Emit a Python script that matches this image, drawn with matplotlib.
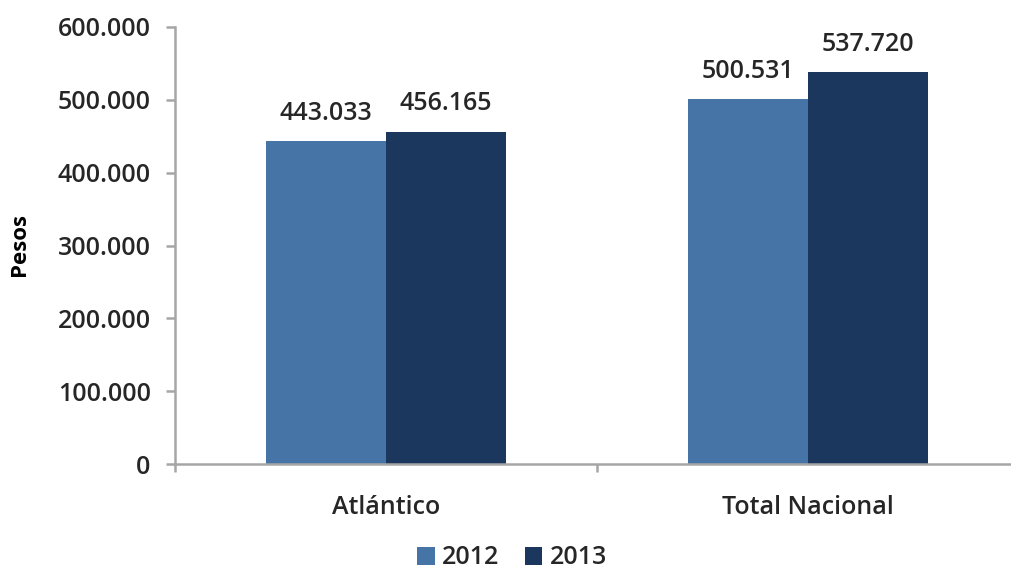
import matplotlib
matplotlib.use("Agg")
import matplotlib.pyplot as plt
from matplotlib.ticker import FuncFormatter
import numpy as np

categories = ["Atlántico", "Total Nacional"]
years = ["2012", "2013"]
values_2012 = [443033, 500531]
values_2013 = [456165, 537720]
yticks = [0, 100000, 200000, 300000, 400000, 500000, 600000]

colors = ["#4674A7", "#1B375E"]
text_color = "#262626"
plt.rcParams["font.family"] = ["Open Sans", "DejaVu Sans"]
plt.rcParams["font.weight"] = "semibold"

W, H = 1012, 569
fig = plt.figure(figsize=(W / 100, H / 100), dpi=100)
ax = fig.add_axes([175 / W, 1 - 464 / H, 844 / W, (464 - 27) / H])

def thousands(v):
    return f"{int(round(v)):,}".replace(",", ".")

x = np.arange(len(categories))
bw = 0.285
for i, (vals, yr) in enumerate(zip([values_2012, values_2013], years)):
    pos = x + (i - 0.5) * bw
    bars = ax.bar(pos, vals, width=bw, color=colors[i], label=yr, zorder=2)
    for b, v in zip(bars, vals):
        ax.annotate(thousands(v), (b.get_x() + b.get_width() / 2, v),
                    xytext=(0, 20), textcoords="offset points",
                    ha="center", va="center", fontsize=18, color=text_color)

ax.set_xlim(-0.5, 1.5)
ax.set_ylim(0, 600000)
ax.set_yticks(yticks)
ax.yaxis.set_major_formatter(FuncFormatter(lambda v, p: thousands(v)))
ax.set_xticks([-0.5, 0.5, 1.5])
ax.set_xticklabels([])
ax.set_xticks(x, minor=True)
ax.set_xticklabels(categories, minor=True)
ax.tick_params(axis="x", which="minor", length=0, pad=22, labelsize=18, labelcolor=text_color)
ax.tick_params(axis="x", which="major", length=6, width=1.8, color="#A6A6A6", direction="out")
ax.tick_params(axis="y", length=6.5, width=1.8, color="#A6A6A6", labelsize=18, labelcolor=text_color, pad=11)

for s in ["top", "right"]:
    ax.spines[s].set_visible(False)
for s in ["left", "bottom"]:
    ax.spines[s].set_color("#A6A6A6")
    ax.spines[s].set_linewidth(1.8)

fig.text(20 / W, 1 - 245 / H, "Pesos", rotation=90, ha="center", va="center",
         fontsize=16, fontweight="bold", color="#000000")

fig.legend(loc="center", bbox_to_anchor=(512 / W, 1 - 558 / H), ncol=2, frameon=False,
           fontsize=18, handlelength=0.7, handleheight=0.7, handletextpad=0.3,
           columnspacing=1.0, labelcolor=text_color, borderpad=0)

fig.savefig("out.png", dpi=100)
